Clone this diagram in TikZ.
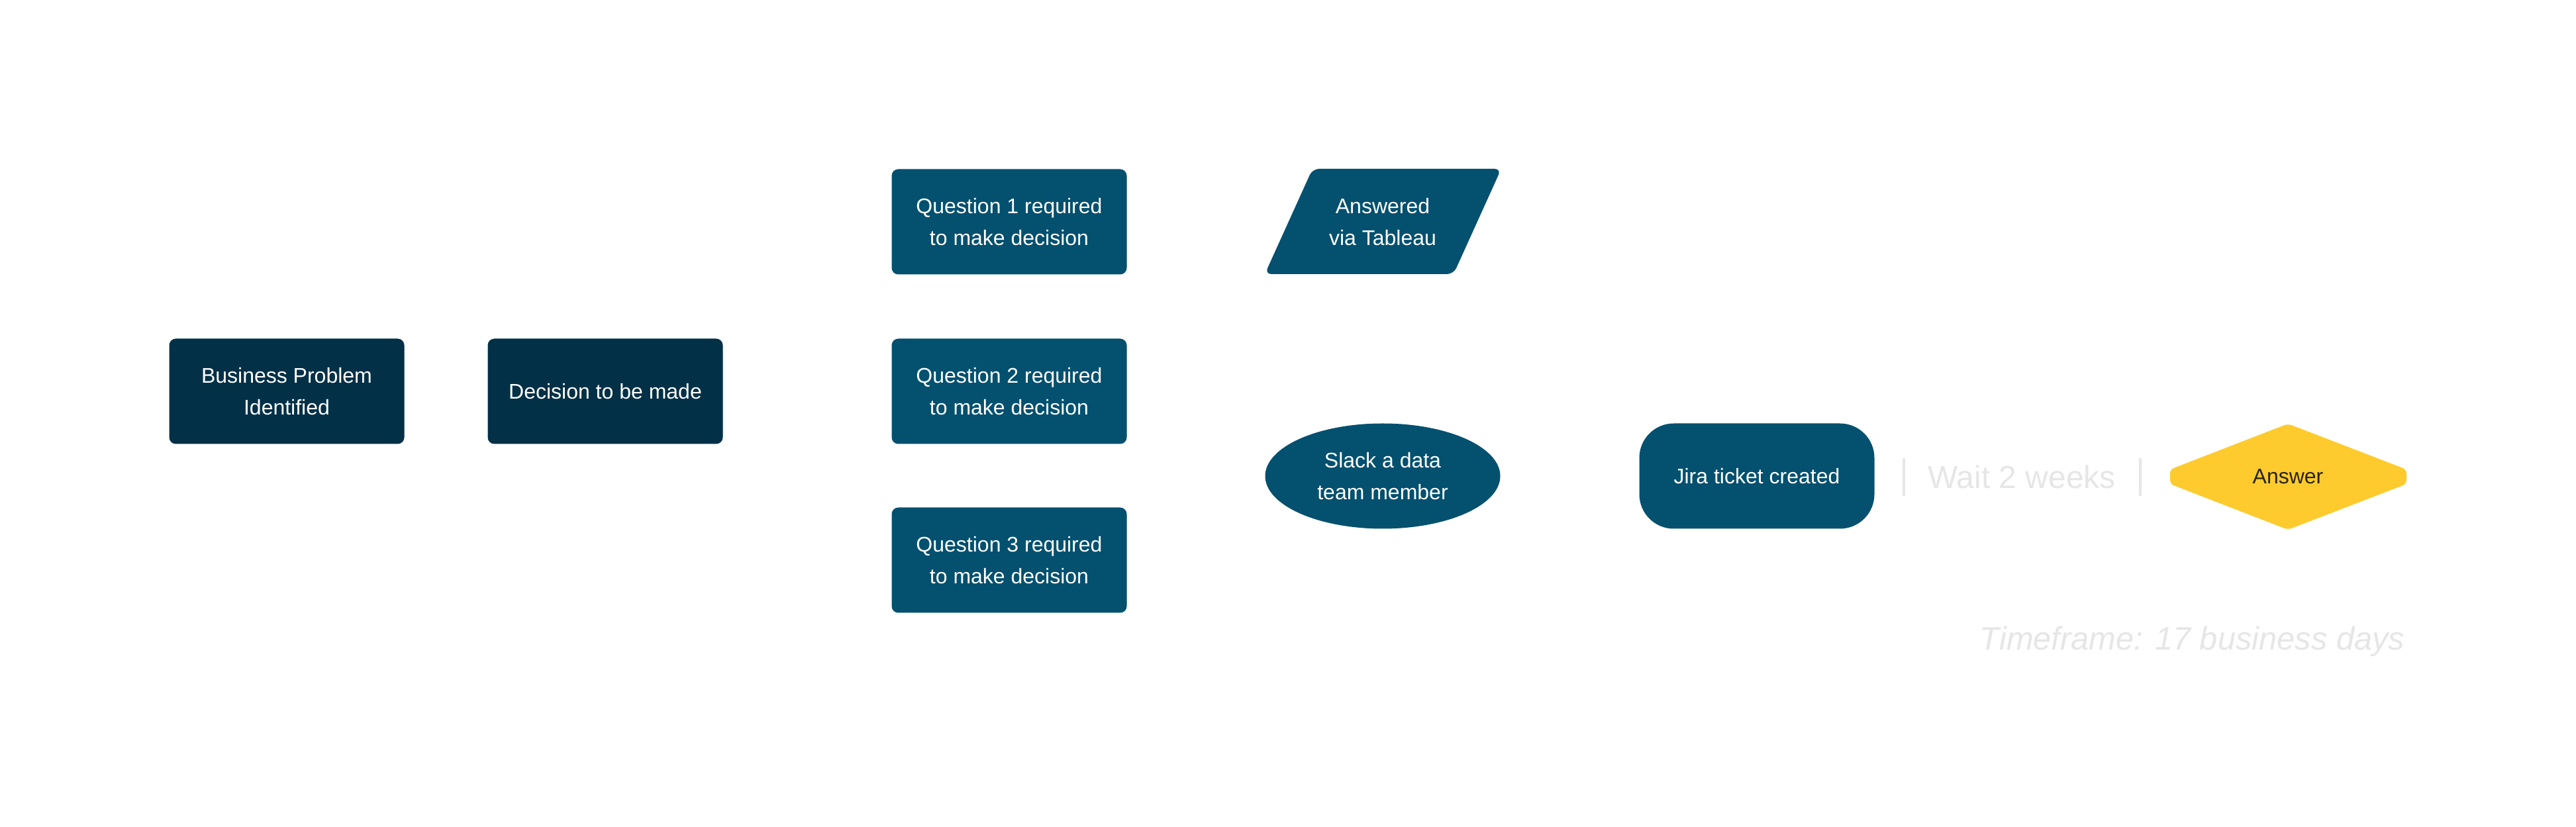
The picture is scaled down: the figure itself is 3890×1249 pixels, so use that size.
\documentclass[tikz,border=0pt]{standalone}
\usepackage{fontspec}
\setmainfont{Liberation Sans}
\usetikzlibrary{shapes.geometric}
\definecolor{dark}{HTML}{023047}
\definecolor{mid}{HTML}{03506F}
\definecolor{gold}{HTML}{FDCB2D}
\definecolor{faint}{HTML}{E6E6E6}
\definecolor{ink}{HTML}{2A2410}
\tikzset{
  box/.style={rectangle, rounded corners=2.5pt, minimum width=88.75pt, minimum height=39.75pt,
    inner sep=0pt, text=white, font=\fontsize{8}{12}\selectfont, align=center},
  darkbox/.style={box, fill=dark},
  midbox/.style={box, fill=mid},
  oval/.style={ellipse, fill=mid, minimum width=88.75pt, minimum height=39.75pt, inner sep=0pt,
    text=white, font=\fontsize{8}{12}\selectfont, align=center},
  label/.style={inner sep=0pt, text=white, font=\fontsize{8}{12}\selectfont, align=center},
  faintline/.style={draw=faint, line width=0.9pt},
}
\begin{document}
\begin{tikzpicture}[x=0.25pt, y=-0.25pt]
\useasboundingbox[fill=white] (0,0) rectangle (3890,1249);

\node[darkbox] (bp) at (433,591) {Business Problem\\Identified};
\node[darkbox] (dec) at (914,591) {Decision to be made};

\node[midbox] (q1) at (1524,335) {Question 1 required\\to make decision};
\node[midbox] (q2) at (1524,591) {Question 2 required\\to make decision};
\node[midbox] (q3) at (1524,846) {Question 3 required\\to make decision};

\fill[mid, rounded corners=2.5pt] (1910,414) -- (1982,255) -- (2267,255) -- (2195,414) -- cycle;
\node[label] (tab) at (2088,335) {Answered\\via Tableau};

\node[oval] (slack) at (2088,719) {Slack a data\\team member};

\node[midbox, rounded corners=13pt] (jira) at (2653,719) {Jira ticket created};

\draw[faintline] (2875,692) -- (2875,749);
\draw[faintline] (3232,692) -- (3232,749);
\node[inner sep=0pt, anchor=base, text=faint, font=\fontsize{12}{14}\selectfont] (wait) at (3053,738) {Wait 2 weeks};

\fill[gold, rounded corners=1.5pt] (3455,640) -- (3634,709) -- (3634,731) -- (3455,800) -- (3277,731) -- (3277,709) -- cycle;
\node[label, text=ink] (ans) at (3455,720) {Answer};

\node[inner sep=0pt, anchor=base east, text=faint, font=\fontsize{12.2}{14}\selectfont\itshape] (tf) at (3632,982) {Timeframe: 17 business days};
\end{tikzpicture}
\end{document}
